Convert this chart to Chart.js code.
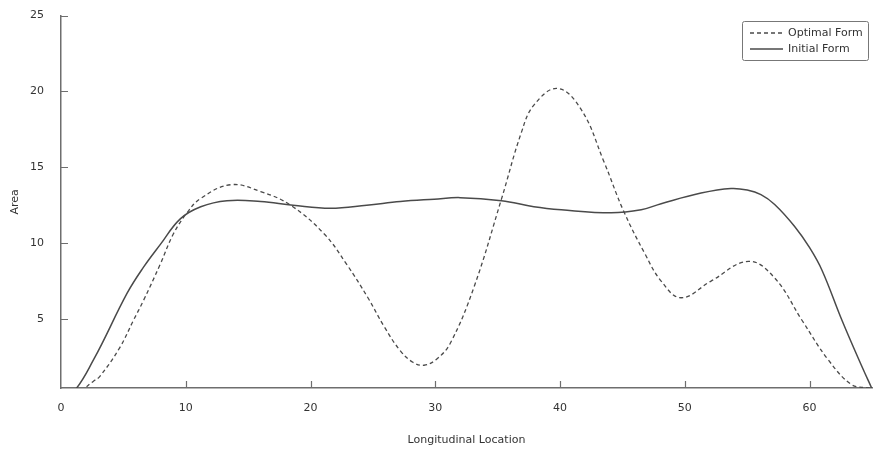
<!DOCTYPE html>
<html>
<head>
<meta charset="utf-8">
<script src="https://cdn.jsdelivr.net/npm/chart.js@4.4.1/dist/chart.umd.min.js"></script>
<style>
  html, body { margin: 0; padding: 0; background: #fff; }
  #wrap { width: 873px; height: 453px; }
</style>
</head>
<body>
<div id="wrap"><canvas id="chart"></canvas></div>
<script>
// values
const optimalX = [0, 1, 1.5, 2.6, 3.1, 4.7, 5.8, 6.6, 7.95, 9.0, 10.1, 11.2, 13.6, 16.0, 18.4, 21.1, 22.9, 24.6, 25.9, 27.2, 28.2, 29.1, 30.1, 31.2, 33.1, 35.3, 36.9, 37.9, 39.8, 41.7, 43.5, 45.1, 46.8, 48.1, 49.7, 52.1, 55.1, 57.2, 59.4, 61.5, 63.4, 64.7, 65];
const optimalY = [0, 0, 0.2, 0.9, 1.2, 3.1, 4.9, 6.2, 8.6, 10.6, 12.0, 12.95, 13.85, 13.4, 12.5, 10.6, 8.6, 6.4, 4.5, 2.9, 2.15, 1.95, 2.35, 3.4, 7.1, 12.9, 17.3, 19.1, 20.2, 18.8, 15.4, 12.1, 9.3, 7.5, 6.4, 7.5, 8.8, 7.7, 4.9, 2.3, 0.65, 0.45, 0.4];

const initialX = [0, 0.9, 2.6, 5.3, 6.6, 7.95, 9.56, 11.2, 13.3, 16.0, 18.6, 21.6, 24.5, 27.2, 29.9, 32.0, 35.3, 37.9, 40.1, 44.1, 46.5, 48.1, 51.3, 53.7, 55.0, 56.1, 57.2, 58.8, 60.0, 61.0, 62.6, 64.2, 65];
const initialY = [0, 0.1, 2.3, 6.7, 8.4, 9.9, 11.6, 12.4, 12.8, 12.75, 12.5, 12.3, 12.5, 12.75, 12.9, 13.0, 12.8, 12.4, 12.2, 12.0, 12.2, 12.6, 13.3, 13.6, 13.5, 13.2, 12.55, 11.1, 9.7, 8.2, 4.9, 1.85, 0.4];

const xTicks = [10, 20, 30, 40, 50, 60];
const yTicks = [5, 10, 15, 20, 25];
const seriesNames = ['Optimal Form', 'Initial Form'];

const lineColor = '#4a4a4a';
const axisColor = '#6e6e6e';
const font = 'DejaVu Sans';

function pts(xs, ys) {
  return xs.map((x, i) => ({ x: x, y: ys[i] }));
}

// inward tick marks + boxed legend
const decorations = {
  id: 'decorations',
  afterDraw(chart) {
    const ctx = chart.ctx;
    const xs = chart.scales.x;
    const ys = chart.scales.y;
    const area = chart.chartArea;
    ctx.save();
    ctx.strokeStyle = axisColor;
    ctx.lineWidth = 1.2;
    ctx.beginPath();
    xTicks.forEach(v => {
      const px = Math.round(xs.getPixelForValue(v)) + 0.5;
      ctx.moveTo(px, area.bottom);
      ctx.lineTo(px, area.bottom - 7);
    });
    yTicks.forEach(v => {
      const py = Math.round(ys.getPixelForValue(v)) + 0.5;
      ctx.moveTo(area.left, py);
      ctx.lineTo(area.left + 7, py);
    });
    ctx.stroke();

    // legend
    const bx = 742, by = 21, bw = 126, bh = 39;
    ctx.strokeStyle = '#777';
    ctx.lineWidth = 1;
    ctx.beginPath();
    ctx.roundRect(bx + 0.5, by + 0.5, bw, bh, 2);
    ctx.stroke();
    ctx.font = '11px "' + font + '"';
    ctx.fillStyle = '#333';
    ctx.textBaseline = 'middle';
    chart.data.datasets.forEach((ds, i) => {
      const y = by + 12 + i * 16;
      ctx.strokeStyle = lineColor;
      ctx.lineWidth = 1.3;
      ctx.setLineDash(ds.borderDash || []);
      ctx.beginPath();
      ctx.moveTo(bx + 8, y);
      ctx.lineTo(bx + 41, y);
      ctx.stroke();
      ctx.setLineDash([]);
      ctx.fillText(ds.label, bx + 46, y);
    });
    ctx.restore();
  }
};

new Chart(document.getElementById('chart'), {
  type: 'line',
  data: {
    datasets: [{
      label: seriesNames[0],
      data: pts(optimalX, optimalY),
      borderColor: lineColor,
      borderWidth: 1.3,
      borderDash: [4, 3],
      pointRadius: 0,
      tension: 0.4
    }, {
      label: seriesNames[1],
      data: pts(initialX, initialY),
      borderColor: lineColor,
      borderWidth: 1.5,
      pointRadius: 0,
      tension: 0.4
    }]
  },
  options: {
    responsive: true,
    maintainAspectRatio: false,
    animation: false,
    layout: { padding: { top: 14, right: 1, left: 0, bottom: 0 } },
    plugins: { legend: { display: false }, tooltip: { enabled: false } },
    scales: {
      x: {
        type: 'linear',
        min: 0,
        max: 65,
        afterFit: s => { s.height = 65; s.paddingRight = 0; s.paddingLeft = 0; },
        grid: { display: false },
        border: { display: true, color: axisColor, width: 1.5 },
        ticks: {
          stepSize: 10,
          padding: 6,
          color: '#333',
          font: { family: font, size: 11 },
          maxRotation: 0,
          callback: v => (v % 10 === 0 ? String(v) : '')
        },
        title: {
          display: true,
          text: 'Longitudinal Location',
          color: '#333',
          font: { family: font, size: 11 },
          padding: { top: 0, bottom: 6 }
        }
      },
      y: {
        min: 0.45,
        max: 25,
        afterFit: s => { s.width = 61; },
        grid: { display: false },
        border: { display: true, color: axisColor, width: 1.5 },
        ticks: {
          stepSize: 5,
          padding: 9,
          color: '#333',
          font: { family: font, size: 11 },
          callback: v => (v % 5 === 0 && v > 0 ? String(v) : '')
        },
        title: {
          display: true,
          text: 'Area',
          color: '#333',
          font: { family: font, size: 11 },
          padding: { top: 9, bottom: 0 }
        }
      }
    }
  },
  plugins: [decorations]
});
</script>
</body>
</html>
